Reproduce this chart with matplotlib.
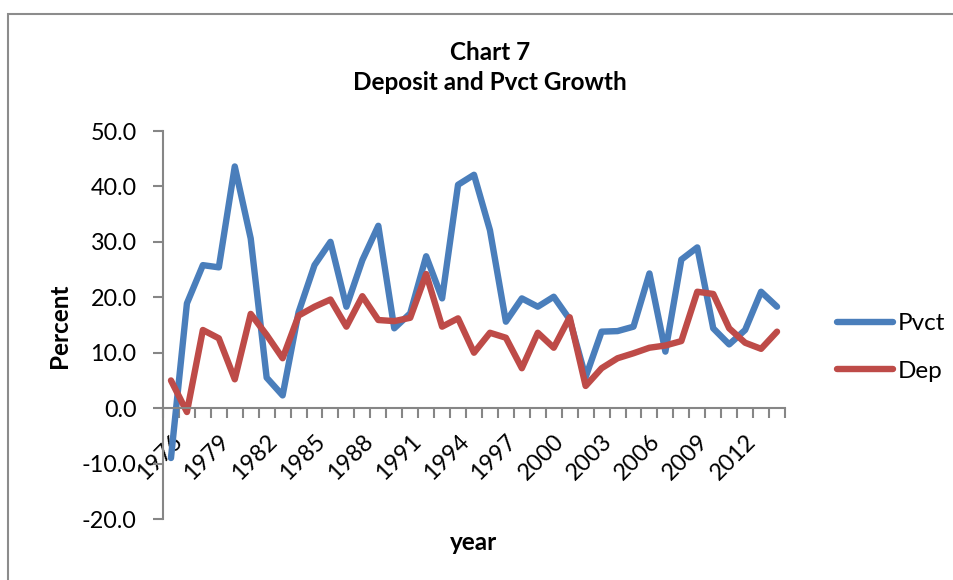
import matplotlib
matplotlib.use("Agg")
import matplotlib.pyplot as plt
from matplotlib.patches import Rectangle
from matplotlib.ticker import FixedLocator, NullFormatter

plt.rcParams['font.family'] = ['Lato', 'DejaVu Sans']

years = list(range(1976, 2015))
pvct = [-9.0, 18.9, 25.8, 25.4, 43.6, 30.6, 5.5, 2.3, 17.3, 25.8,
        30.0, 18.3, 26.7, 32.9, 14.4, 17.1, 27.4, 19.8, 40.3, 42.1,
        32.1, 15.6, 19.8, 18.3, 20.1, 16.0, 5.6, 13.8, 13.9, 14.7,
        24.3, 10.2, 26.8, 29.0, 14.4, 11.5, 14.1, 21.0, 18.3]
dep = [5.0, -0.7, 14.1, 12.6, 5.2, 17.0, 13.2, 9.0, 16.7, 18.3,
       19.6, 14.7, 20.2, 15.9, 15.7, 16.3, 24.2, 14.7, 16.2, 10.0,
       13.6, 12.7, 7.2, 13.6, 10.9, 16.4, 4.0, 7.2, 9.0, 9.9,
       10.9, 11.3, 12.1, 21.0, 20.6, 14.4, 11.8, 10.7, 13.8]
y_ticks = [-20, -10, 0, 10, 20, 30, 40, 50]

W, H = 954, 580
fig = plt.figure(figsize=(W / 100, H / 100), dpi=100)

# chart-area frame
fig.patches.append(Rectangle((8.5 / W, 0 - 0.05), 1.2, (H - 14) / H + 0.05,
                             transform=fig.transFigure, fill=False,
                             edgecolor='#8c8c8c', linewidth=1.5))

left, right, top, bottom = 163, 785, 131, 519
ax = fig.add_axes([left / W, 1 - bottom / H, (right - left) / W, (bottom - top) / H])

idx = list(range(len(years)))
blue = '#4A7EBB'
red = '#BE4B48'
ax.plot(idx, pvct, color=blue, lw=4.6, label='Pvct', solid_joinstyle='round',
        solid_capstyle='round')
ax.plot(idx, dep, color=red, lw=4.6, label='Dep', solid_joinstyle='round',
        solid_capstyle='round')

ax.set_xlim(-0.5, len(years) - 0.5)
ax.set_ylim(-20, 50)

axis_gray = '#868686'
for s in ('top', 'right'):
    ax.spines[s].set_visible(False)
ax.spines['bottom'].set_position(('data', 0))
ax.spines['left'].set_position(('data', -0.5))
for s in ('bottom', 'left'):
    ax.spines[s].set_color(axis_gray)
    ax.spines[s].set_linewidth(1.5)

ax.set_yticks(y_ticks)
ax.set_yticklabels([f'{v:.1f}' for v in y_ticks])
ax.tick_params(axis='y', direction='out', length=7, width=1.5, color=axis_gray,
               pad=12, labelsize=16.8)

# category boundaries carry the tick marks, centres carry the labels
ax.xaxis.set_major_locator(FixedLocator([i - 0.5 for i in range(len(years) + 1)]))
ax.xaxis.set_major_formatter(NullFormatter())
lab_idx = list(range(0, len(years), 3))
ax.xaxis.set_minor_locator(FixedLocator(lab_idx))
ax.set_xticklabels([str(years[i]) for i in lab_idx], minor=True)
ax.tick_params(axis='x', which='major', direction='out', length=7, width=1.5,
               color=axis_gray)
ax.tick_params(axis='x', which='minor', length=0, pad=16, labelsize=16.8)
for t in ax.get_xticklabels(minor=True):
    t.set_rotation(45)
    t.set_ha('right')
    t.set_va('top')
    t.set_rotation_mode('anchor')

fig.text(490 / W, 1 - 52 / H, 'Chart 7', ha='center', va='center',
         fontsize=17.5, fontweight='bold')
fig.text(490 / W, 1 - 83 / H, 'Deposit and Pvct Growth', ha='center',
         va='center', fontsize=17.5, fontweight='bold')
fig.text(60 / W, 1 - 326 / H, 'Percent', ha='center', va='center',
         rotation=90, fontsize=17.5, fontweight='bold')
fig.text(474 / W, 1 - 543 / H, 'year', ha='center', va='center',
         fontsize=17.5, fontweight='bold')

leg = fig.legend(loc='upper left', bbox_to_anchor=(837 / W, 1 - 313 / H),
                 frameon=False, fontsize=17.5, handlelength=2.3,
                 handletextpad=0.2, labelspacing=1.1, borderpad=0,
                 borderaxespad=0)

fig.savefig('out.png', dpi=100)
